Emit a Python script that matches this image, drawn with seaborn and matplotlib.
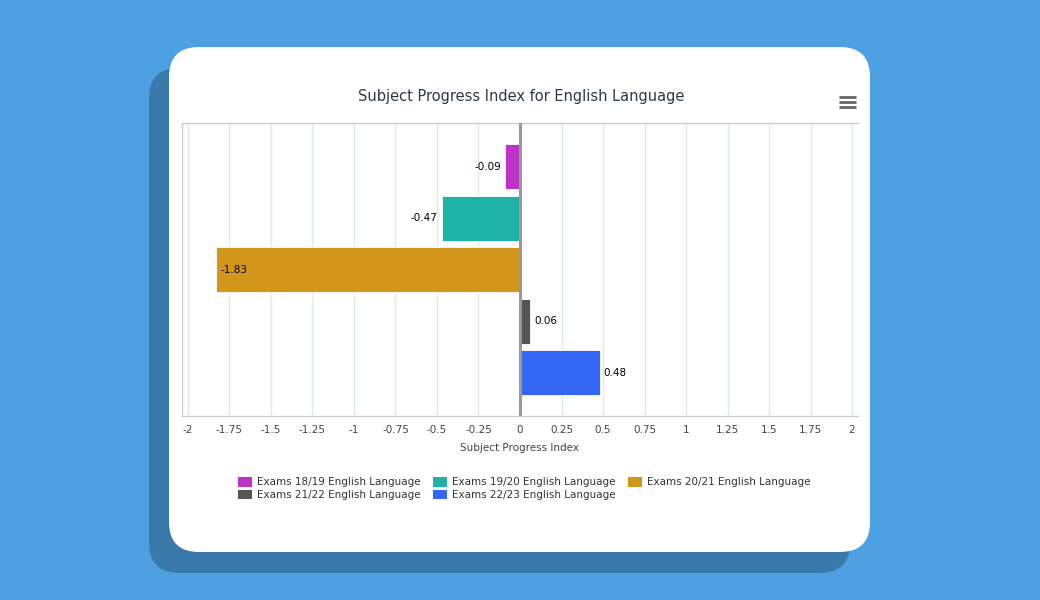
import matplotlib.pyplot as plt
import seaborn as sns
import numpy as np
from matplotlib.patches import FancyBboxPatch, Patch

# data
labels = ['Exams 18/19 English Language', 'Exams 19/20 English Language',
          'Exams 20/21 English Language', 'Exams 21/22 English Language',
          'Exams 22/23 English Language']
values = [-0.09, -0.47, -1.83, 0.06, 0.48]
colors = ['#BF33C8', '#1FB2A6', '#D1961A', '#555555', '#3366F2']
tick_vals = [-2, -1.75, -1.5, -1.25, -1, -0.75, -0.5, -0.25, 0,
             0.25, 0.5, 0.75, 1, 1.25, 1.5, 1.75, 2]

sns.set_style('white')
plt.rcParams['font.family'] = ['DejaVu Sans']

fig = plt.figure(figsize=(10.4, 6), dpi=100)
fig.patch.set_facecolor('#4DA1E2')

# background card + shadow, in pixel coords
bg = fig.add_axes([0, 0, 1, 1], zorder=0)
bg.set_xlim(0, 1040)
bg.set_ylim(600, 0)
bg.axis('off')
bg.add_patch(FancyBboxPatch((149, 68), 701, 505, boxstyle='round,pad=0,rounding_size=30',
                            fc='#3A7AAA', ec='none'))
bg.add_patch(FancyBboxPatch((169, 47), 701, 505, boxstyle='round,pad=0,rounding_size=30',
                            fc='white', ec='none'))
bg.text(521, 96, 'Subject Progress Index for English Language', ha='center', va='center',
        fontsize=10.5, color='#2E3A46')
for yy in (96.5, 101.5, 106.5):
    bg.plot([839, 856], [yy, yy], color='#666666', lw=2.0, solid_capstyle='butt')

# main chart
ax = fig.add_axes([182 / 1040, 1 - 416 / 600, 676 / 1040, 293 / 600], zorder=1)
ax.set_facecolor('none')
sns.barplot(x=values, y=labels, hue=labels, palette=colors, orient='h', width=0.88,
            saturation=1, legend=False, edgecolor='white', linewidth=0.6, ax=ax)

ax.set_xlim(-2.036, 2.036)
ax.set_ylim(4.84, -0.85)
ax.set_xticks(tick_vals)
ax.set_xticklabels([f'{v:g}' for v in tick_vals])
ax.set_yticks([-0.85, 4.84])
ax.set_yticklabels([])
ax.tick_params(axis='y', length=6, color='#cccccc', width=1)
ax.tick_params(axis='x', length=0, pad=6.5, labelsize=7.5, labelcolor='#444444')
ax.grid(axis='x', color='#dfeddf', lw=1)
ax.set_axisbelow(True)
ax.axvline(0, color='#999999', lw=2.2, zorder=3)
for side in ('left', 'top', 'bottom'):
    ax.spines[side].set_color('#cccccc')
    ax.spines[side].set_linewidth(1)
ax.spines['right'].set_visible(False)
ax.set_ylabel('')
ax.set_xlabel('Subject Progress Index', fontsize=7.5, color='#444444', labelpad=6)

for i, v in enumerate(values):
    if v < -1:
        off, ha = 3, 'left'
    elif v < 0:
        off, ha = -3, 'right'
    else:
        off, ha = 3, 'left'
    ax.annotate(f'{v:.2f}', (v, i), xytext=(off, 0), textcoords='offset points',
                ha=ha, va='center', fontsize=7.5, color='black', zorder=4)

# legend, row-major order like the original
handles = [Patch(fc=c, ec='none') for c in colors]
order = [0, 3, 1, 4, 2]
fig.legend([handles[k] for k in order], [labels[k] for k in order], ncol=3,
           loc='upper left', bbox_to_anchor=(233 / 1040, 1 - 472 / 600), frameon=False,
           fontsize=7.5, handlelength=1.3, handleheight=1.0, handletextpad=0.55,
           columnspacing=1.15, labelspacing=0.25, borderpad=0, labelcolor='#333333')

fig.savefig('out.png', dpi=100, facecolor=fig.get_facecolor())
